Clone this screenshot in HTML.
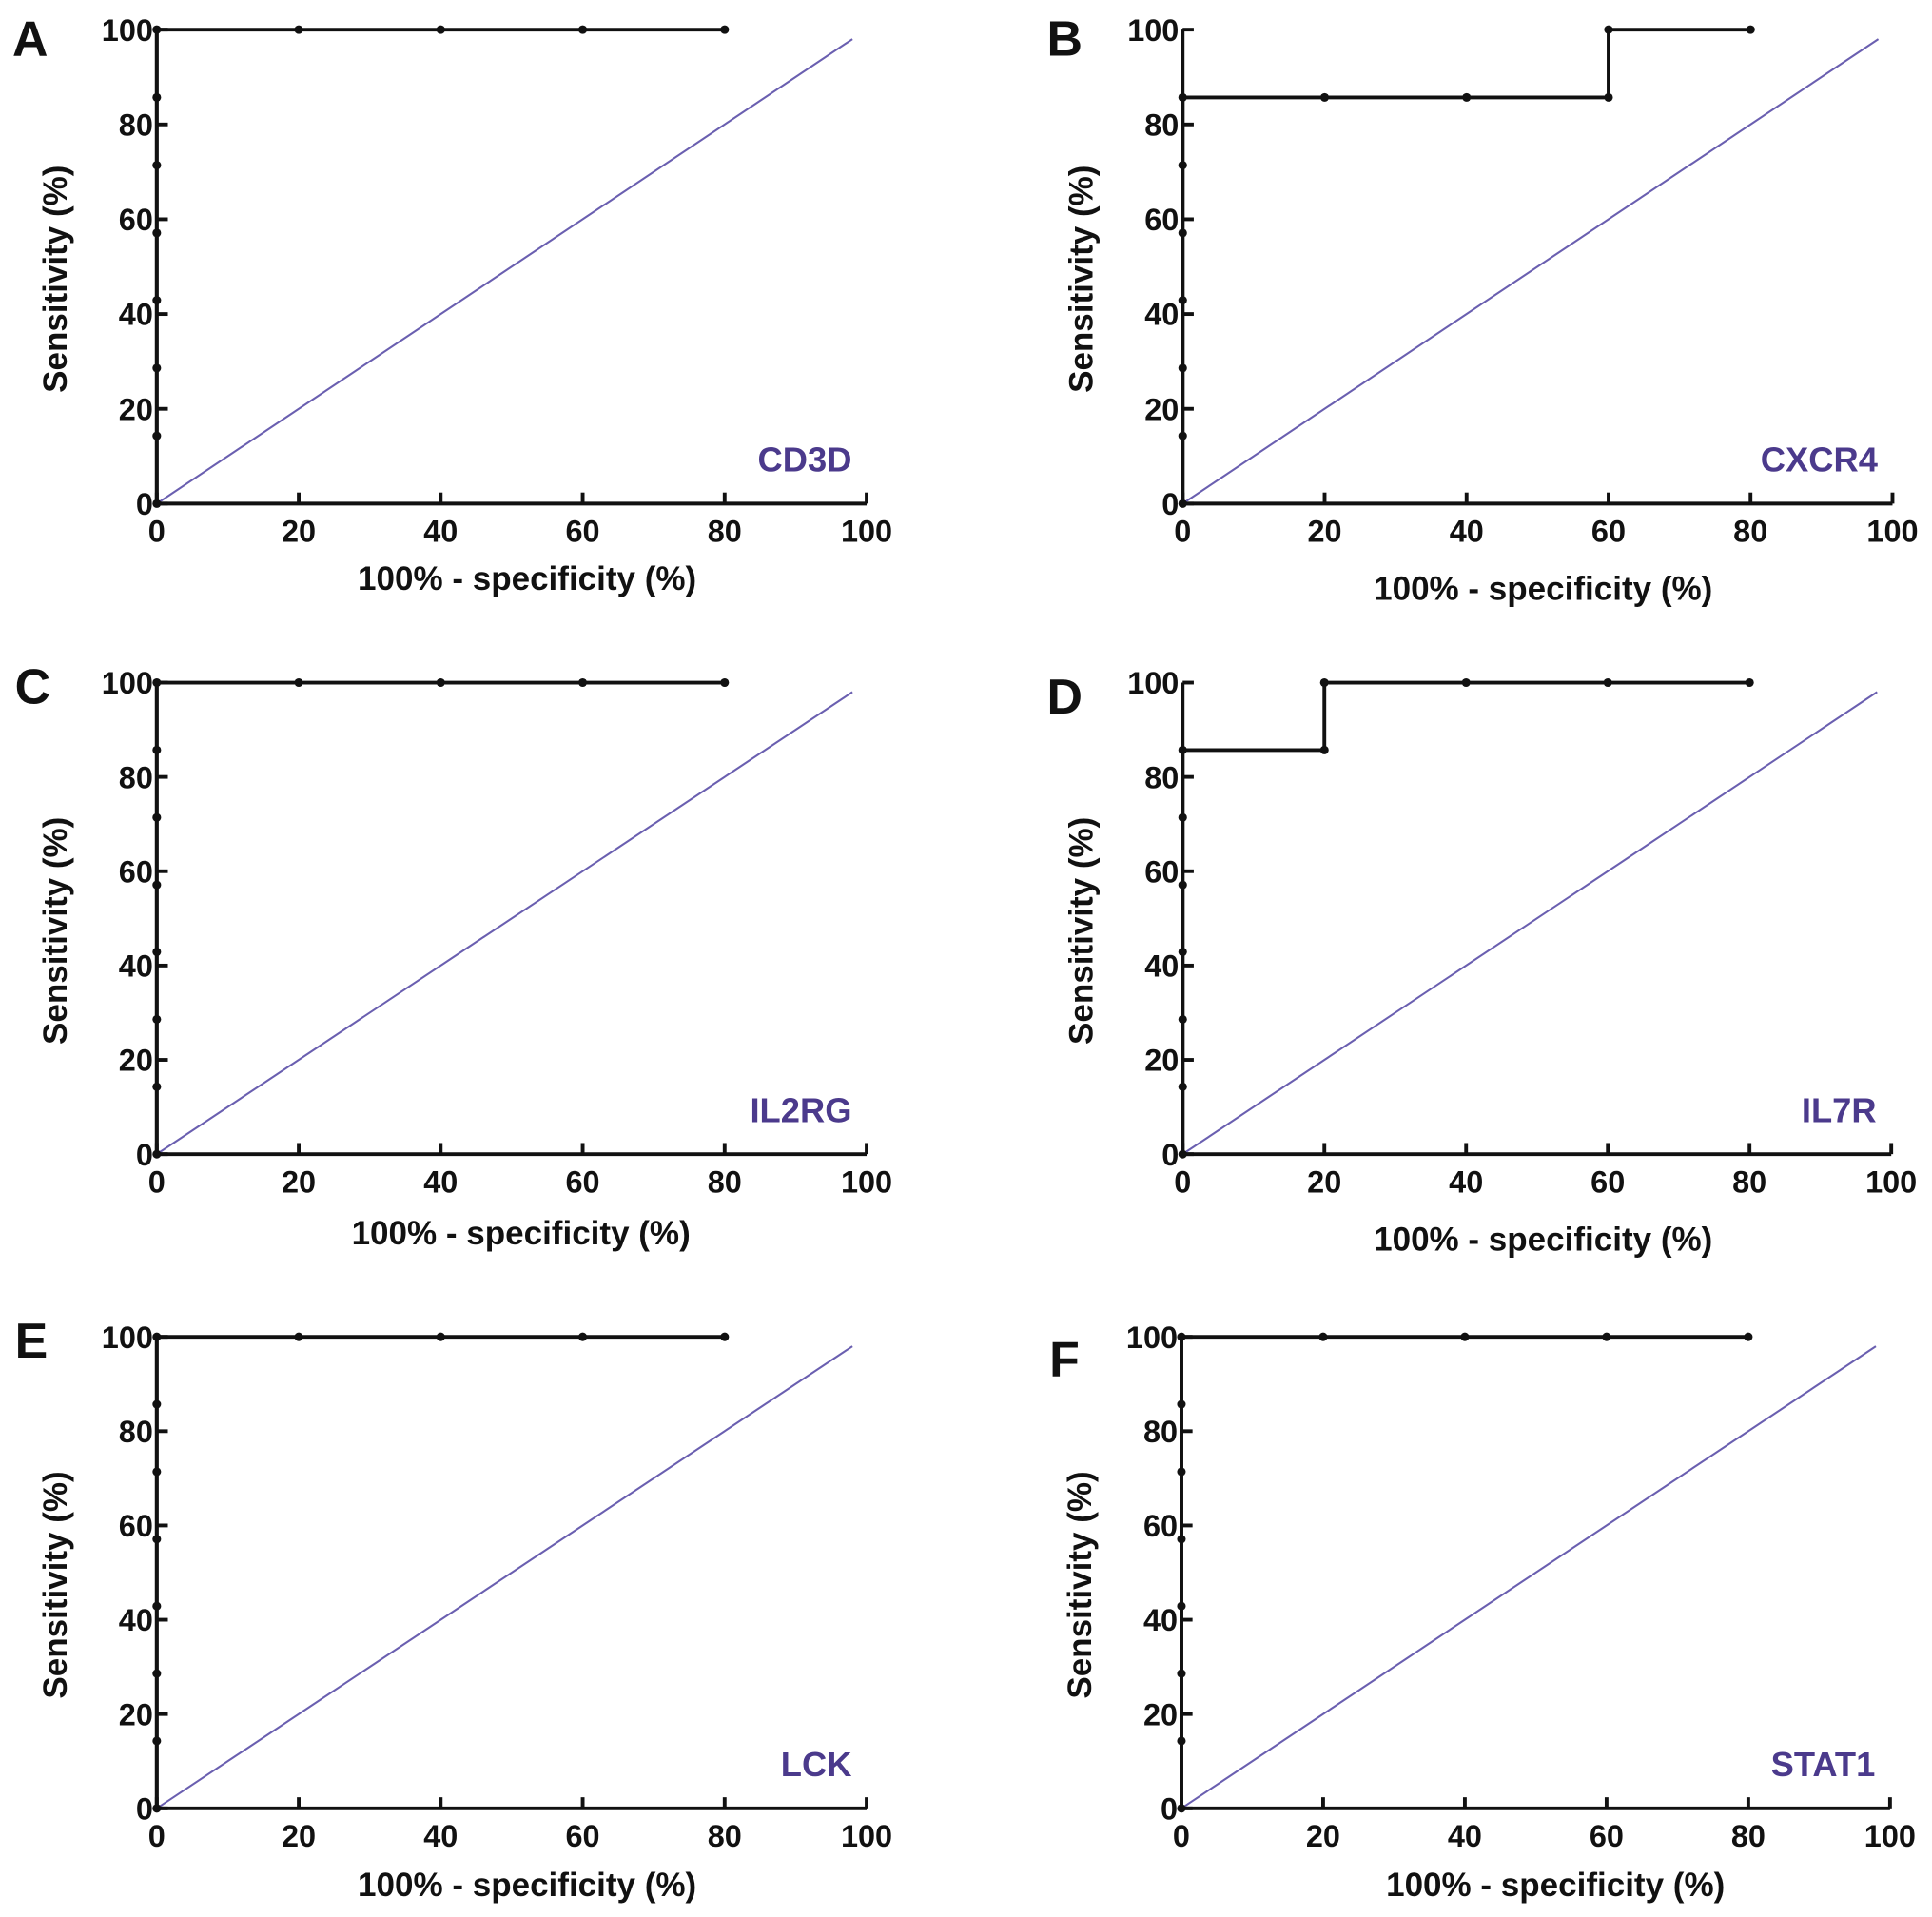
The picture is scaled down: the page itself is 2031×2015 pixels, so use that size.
<!DOCTYPE html>
<html><head><meta charset="utf-8"><style>
html,body{margin:0;padding:0;background:#fff}
svg{display:block}
text{font-family:"Liberation Sans",Arial,sans-serif;font-weight:bold;fill:#111}
</style></head><body>
<svg id="fig" width="2031" height="2015" viewBox="0 0 1565 1553" preserveAspectRatio="none" xmlns="http://www.w3.org/2000/svg"></svg>
<script>
const panelLetters = ["A","B","C","D","E","F"];
const geneNames = ["CD3D","CXCR4","IL2RG","IL7R","LCK","STAT1"];
const xTicks = [0,20,40,60,80,100];
const yTicks = [0,20,40,60,80,100];
const rocA_x = [0,0,0,0,0,0,0,0,20,40,60,80];
const rocA_y = [0,14.3,28.6,42.9,57.1,71.4,85.7,100,100,100,100,100];
const rocB_x = [0,0,0,0,0,0,0,20,40,60,60,80];
const rocB_y = [0,14.3,28.6,42.9,57.1,71.4,85.7,85.7,85.7,85.7,100,100];
const rocC_x = [0,0,0,0,0,0,0,0,20,40,60,80];
const rocC_y = [0,14.3,28.6,42.9,57.1,71.4,85.7,100,100,100,100,100];
const rocD_x = [0,0,0,0,0,0,0,20,20,40,60,80];
const rocD_y = [0,14.3,28.6,42.9,57.1,71.4,85.7,85.7,100,100,100,100];
const rocE_x = [0,0,0,0,0,0,0,0,20,40,60,80];
const rocE_y = [0,14.3,28.6,42.9,57.1,71.4,85.7,100,100,100,100,100];
const rocF_x = [0,0,0,0,0,0,0,0,20,40,60,80];
const rocF_y = [0,14.3,28.6,42.9,57.1,71.4,85.7,100,100,100,100,100];
const refLine_x = [0,98];
const refLine_y = [0,98];

const seriesX=[rocA_x,rocB_x,rocC_x,rocD_x,rocE_x,rocF_x];
const seriesY=[rocA_y,rocB_y,rocC_y,rocD_y,rocE_y,rocF_y];
const layout=[
 {x0:127,x1:702,yt:24,yb:408,lx:10,ly:45,xt:427,xty:478},
 {x0:958,x1:1533,yt:24,yb:408,lx:848,ly:45,xt:1250,xty:486},
 {x0:127,x1:702,yt:553,yb:935,lx:12,ly:570,xt:422,xty:1008},
 {x0:958,x1:1532,yt:553,yb:935,lx:848,ly:578,xt:1250,xty:1013},
 {x0:127,x1:702,yt:1083,yb:1465,lx:12,ly:1100,xt:427,xty:1536},
 {x0:957,x1:1531,yt:1083,yb:1465,lx:850,ly:1115,xt:1260,xty:1536}
];
const NS="http://www.w3.org/2000/svg";
const svg=document.getElementById('fig');
function mk(tag,attrs,parent){const e=document.createElementNS(NS,tag);for(const k in attrs)e.setAttribute(k,attrs[k]);(parent||svg).appendChild(e);return e;}
layout.forEach((L,i)=>{
 const g=mk('g',{});
 
 
 const sx=v=>L.x0+(L.x1-L.x0)*v/100;
 const sy=v=>L.yb-(L.yb-L.yt)*v/100;
 const lt=mk('text',{x:L.lx,y:L.ly,'font-size':40},g);lt.textContent=panelLetters[i];
 
 
 const d=mk('line',{x1:sx(refLine_x[0]),y1:sy(refLine_y[0]),x2:sx(refLine_x[1]),y2:sy(refLine_y[1]),stroke:'#6a5fb0','stroke-width':1.6},g);
 
 
 const ax=mk('path',{d:`M${sx(0)},${sy(100)} L${sx(0)},${sy(0)} L${sx(100)},${sy(0)}`,stroke:'#111','stroke-width':3,fill:'none'},g);
 
 
 xTicks.forEach(t=>{
  mk('line',{x1:sx(t),y1:sy(0),x2:sx(t),y2:sy(0)-9,stroke:'#111','stroke-width':3},g);
  const tx=mk('text',{x:sx(t),y:sy(0)+31,'font-size':25,'text-anchor':'middle'},g);tx.textContent=t;
  
  
 });
 yTicks.forEach(t=>{
  mk('line',{x1:sx(0),y1:sy(t),x2:sx(0)+9,y2:sy(t),stroke:'#111','stroke-width':3},g);
  const ty=mk('text',{x:sx(0)-3,y:sy(t)+9,'font-size':25,'text-anchor':'end'},g);ty.textContent=t;
  
  
 });
 const xs=seriesX[i],ys=seriesY[i];
 const pts=xs.map((x,k)=>sx(x)+','+sy(ys[k])).join(' ');
 const pl=mk('polyline',{points:pts,stroke:'#111','stroke-width':3,fill:'none'},g);
 
 
 xs.forEach((x,k)=>{
  const c=mk('circle',{cx:sx(x),cy:sy(ys[k]),r:3.5,fill:'#111'},g);
  
  
 });
 const gn=mk('text',{x:sx(100)-12,y:sy(0)-26,'font-size':28,'text-anchor':'end',style:'fill:#4b3a8c'},g);gn.textContent=geneNames[i];
 
 
 const xt=mk('text',{x:L.xt,y:L.xty,'font-size':27,'text-anchor':'middle'},g);xt.textContent='100% - specificity (%)';
 
 
 const cy=(L.yt+L.yb)/2+10, cx=L.x0-73;
 const yt=mk('text',{x:cx,y:cy,'font-size':27,'text-anchor':'middle',transform:`rotate(-90 ${cx} ${cy})`},g);yt.textContent='Sensitivity (%)';
 
 
});
</script>
</body></html>
